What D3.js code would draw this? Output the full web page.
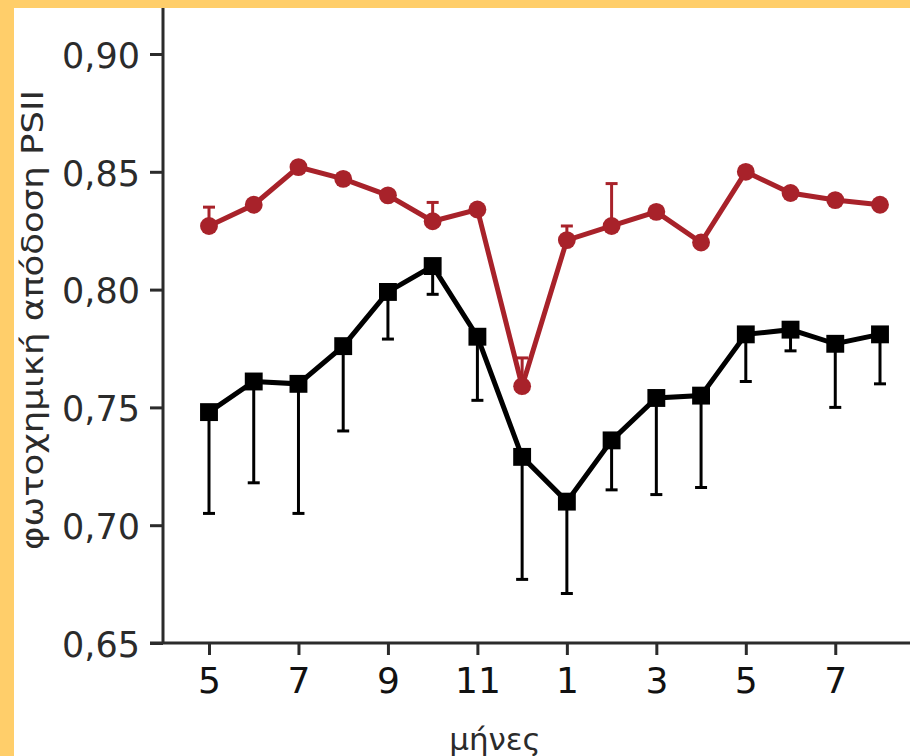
<!DOCTYPE html>
<html>
<head>
<meta charset="utf-8">
<script src="https://cdn.jsdelivr.net/npm/d3@7"></script>
<style>
  html, body { margin: 0; padding: 0; background: #ffffff; }
  svg { display: block; }
</style>
</head>
<body>
<script>
// ---- data ----
const months = [5, 6, 7, 8, 9, 10, 11, 12, 1, 2, 3, 4, 5, 6, 7, 8];
const tickIndex = [0, 2, 4, 6, 8, 10, 12, 14];
const tickLabels = ["5", "7", "9", "11", "1", "3", "5", "7"];
const yTicks = [0.65, 0.70, 0.75, 0.80, 0.85, 0.90];

const redValues = [0.827, 0.836, 0.852, 0.847, 0.840, 0.829, 0.834, 0.759, 0.821, 0.827, 0.833, 0.820, 0.850, 0.841, 0.838, 0.836];
const redErrUp  = [0.835, null, null, null, null, 0.837, null, 0.771, 0.827, 0.845, null, null, null, null, null, null];

const blackValues  = [0.748, 0.761, 0.760, 0.776, 0.799, 0.810, 0.780, 0.729, 0.710, 0.736, 0.754, 0.755, 0.781, 0.783, 0.777, 0.781];
const blackErrDown = [0.705, 0.718, 0.705, 0.740, 0.779, 0.798, 0.753, 0.677, 0.671, 0.715, 0.713, 0.716, 0.761, 0.774, 0.750, 0.760];

const yLabel = "φωτοχημική απόδοση PSII";
const xLabel = "μήνες";

// ---- drawing ----
const W = 910, H = 756;
const svg = d3.select("body").append("svg").attr("width", W).attr("height", H);

svg.append("rect").attr("width", W).attr("height", H).attr("fill", "#ffffff");
// frame
svg.append("rect").attr("x", 0).attr("y", 0).attr("width", W).attr("height", 8).attr("fill", "#FFCE6A");
svg.append("rect").attr("x", 0).attr("y", 0).attr("width", 14).attr("height", H).attr("fill", "#FFCE6A");

const x = d3.scaleLinear().domain([0, 15]).range([209, 880]);
const y = d3.scaleLinear().domain([0.65, 0.90]).range([643, 54]);

const axisColor = "#2b2b2b";
const font = "'DejaVu Sans', sans-serif";

// axes lines
svg.append("line").attr("x1", 163).attr("x2", 163).attr("y1", 8).attr("y2", y(0.65))
  .attr("stroke", axisColor).attr("stroke-width", 3);
svg.append("line").attr("x1", 150).attr("x2", W).attr("y1", y(0.65)).attr("y2", y(0.65))
  .attr("stroke", axisColor).attr("stroke-width", 3);

// y axis
const yAxis = d3.axisLeft(y).tickValues(yTicks).tickSize(13).tickPadding(10)
  .tickFormat(d => d3.format(".2f")(d).replace(".", ","));
const gy = svg.append("g").attr("transform", "translate(163,0)").call(yAxis);
gy.select(".domain").remove();
gy.selectAll(".tick line").attr("stroke", axisColor).attr("stroke-width", 3);
gy.selectAll(".tick text").attr("fill", axisColor).attr("font-family", font).attr("font-size", 35)
  .attr("dy", "0.38em");

// x axis
const xAxis = d3.axisBottom(x).tickValues(tickIndex).tickSize(12).tickPadding(12)
  .tickFormat((d, i) => tickLabels[i]);
const gx = svg.append("g").attr("transform", `translate(0,${y(0.65)})`).call(xAxis);
gx.select(".domain").remove();
gx.selectAll(".tick line").attr("stroke", axisColor).attr("stroke-width", 3);
gx.selectAll(".tick text").attr("fill", "#111").attr("font-family", font).attr("font-size", 36);

// axis labels
svg.append("text").attr("x", 495).attr("y", 750).attr("text-anchor", "middle")
  .attr("font-family", font).attr("font-size", 31).attr("fill", axisColor).text(xLabel);
svg.append("text").attr("transform", "translate(43,320) rotate(-90)").attr("text-anchor", "middle")
  .attr("font-family", font).attr("font-size", 31).attr("fill", axisColor)
  .attr("textLength", 460).attr("lengthAdjust", "spacingAndGlyphs").text(yLabel);

const red = "#A8222A";
const capW = 6;

// black error bars (down)
const gbe = svg.append("g");
blackValues.forEach((v, i) => {
  const lo = blackErrDown[i];
  if (lo == null) return;
  gbe.append("line").attr("x1", x(i)).attr("x2", x(i)).attr("y1", y(v)).attr("y2", y(lo))
    .attr("stroke", "#000").attr("stroke-width", 3);
  gbe.append("line").attr("x1", x(i) - capW).attr("x2", x(i) + capW).attr("y1", y(lo)).attr("y2", y(lo))
    .attr("stroke", "#000").attr("stroke-width", 3);
});
// red error bars (up)
const gre = svg.append("g");
redValues.forEach((v, i) => {
  const hi = redErrUp[i];
  if (hi == null) return;
  gre.append("line").attr("x1", x(i)).attr("x2", x(i)).attr("y1", y(v)).attr("y2", y(hi))
    .attr("stroke", red).attr("stroke-width", 3);
  gre.append("line").attr("x1", x(i) - capW).attr("x2", x(i) + capW).attr("y1", y(hi)).attr("y2", y(hi))
    .attr("stroke", red).attr("stroke-width", 3);
});

const line = d3.line().x((d, i) => x(i)).y(d => y(d));

// red series
svg.append("path").datum(redValues).attr("d", line).attr("fill", "none")
  .attr("stroke", red).attr("stroke-width", 5).attr("stroke-linejoin", "miter");
svg.append("g").selectAll("path").data(redValues).join("path")
  .attr("transform", (d, i) => `translate(${x(i)},${y(d)})`)
  .attr("d", d3.symbol().type(d3.symbolCircle).size(250))
  .attr("fill", red);

// black series
svg.append("path").datum(blackValues).attr("d", line).attr("fill", "none")
  .attr("stroke", "#000").attr("stroke-width", 5).attr("stroke-linejoin", "miter");
svg.append("g").selectAll("path").data(blackValues).join("path")
  .attr("transform", (d, i) => `translate(${x(i)},${y(d)})`)
  .attr("d", d3.symbol().type(d3.symbolSquare).size(320))
  .attr("fill", "#000");
</script>
</body>
</html>
